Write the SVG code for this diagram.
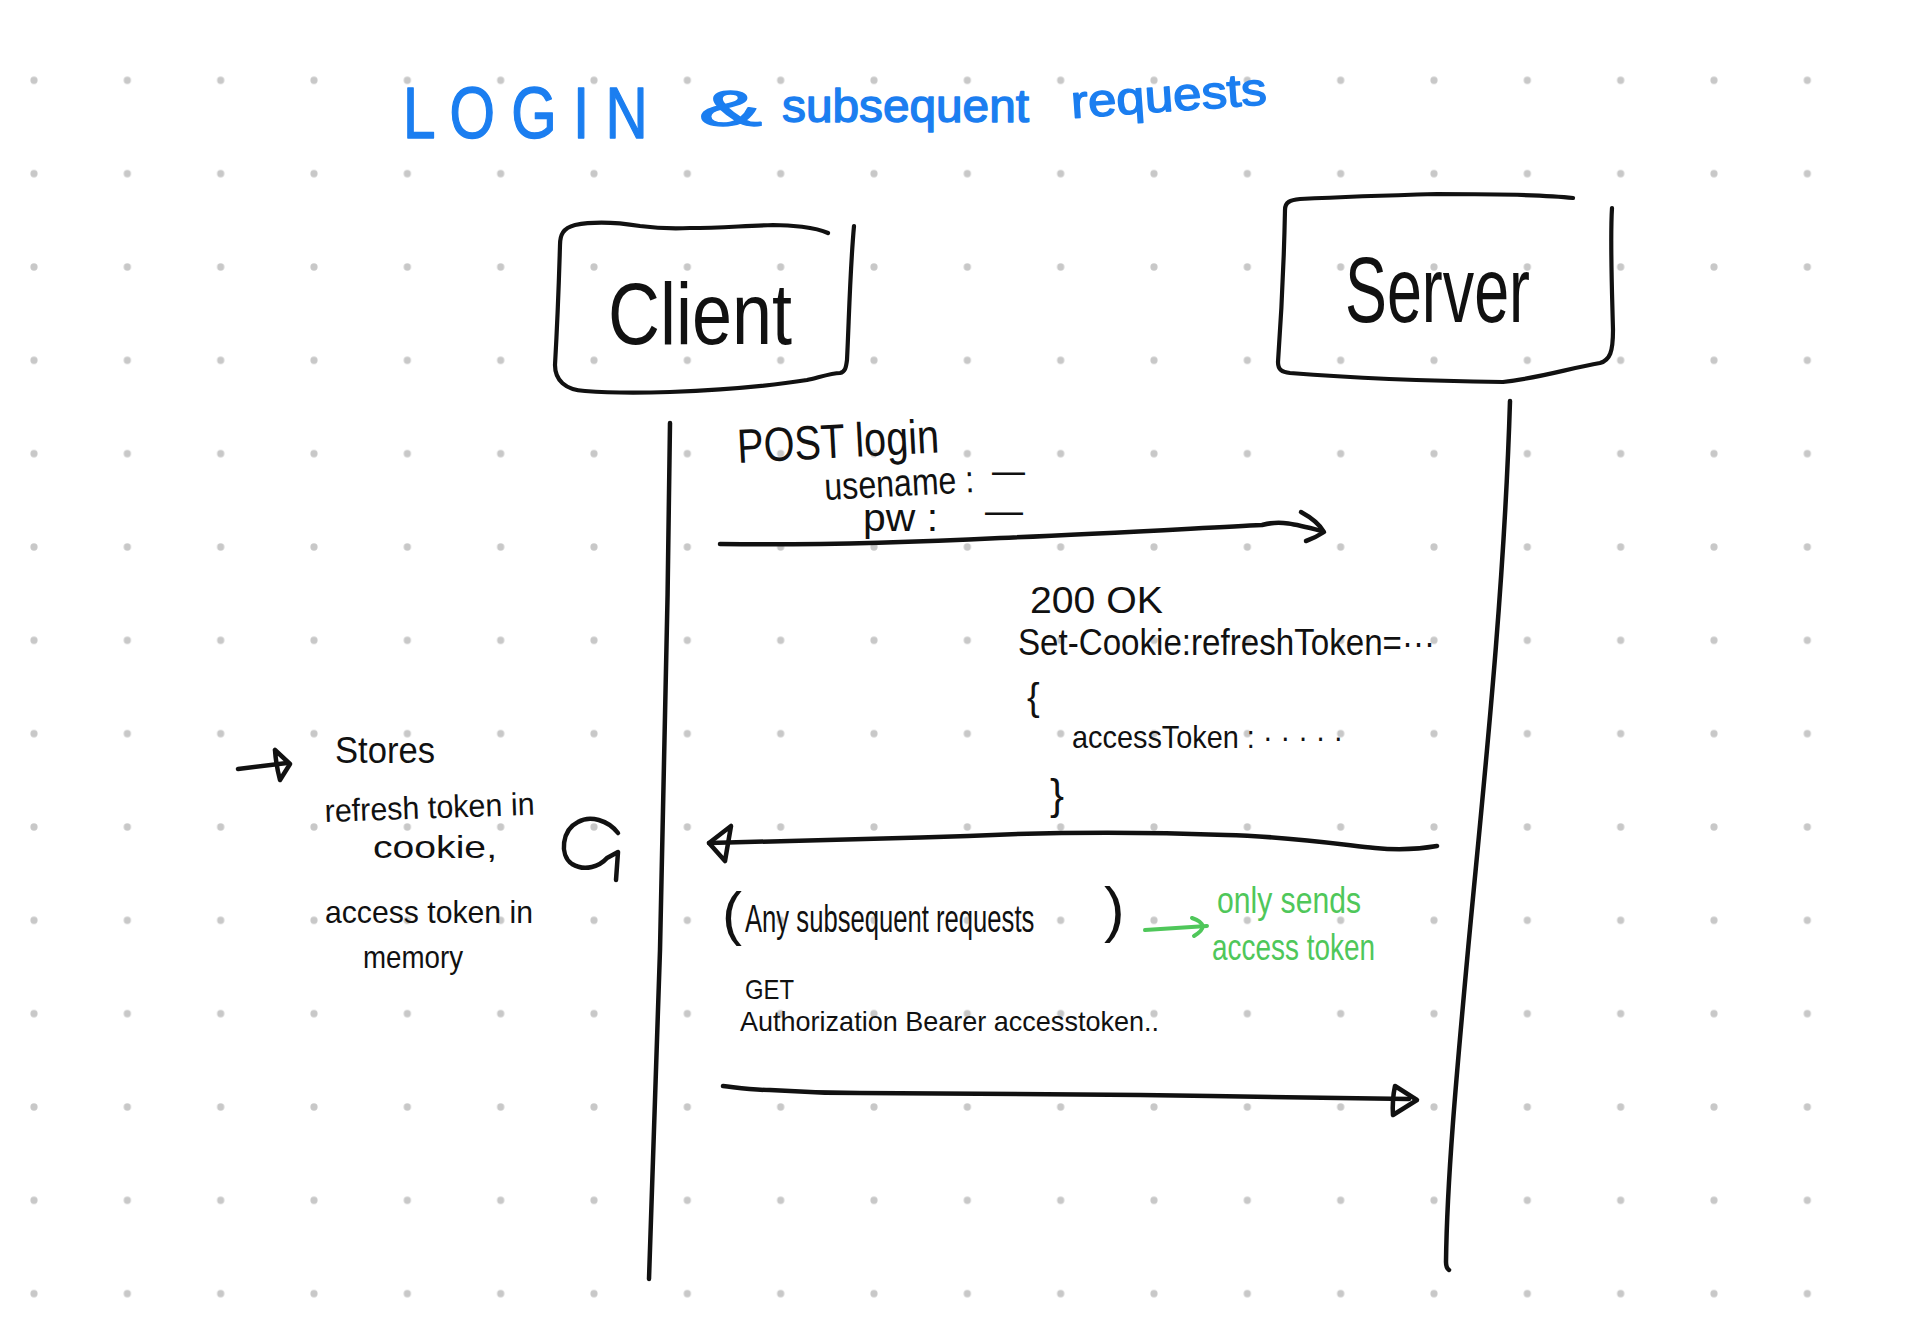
<svg xmlns="http://www.w3.org/2000/svg" width="1906" height="1324" viewBox="0 0 1906 1324">
<defs>
<pattern id="dots" x="-12.667" y="33.667" width="93.333" height="93.333" patternUnits="userSpaceOnUse">
<circle cx="46.667" cy="46.667" r="3.6" fill="#c8c8c8"/>
</pattern>
<style>
.ink{fill:none;stroke:#111;stroke-width:4.5;stroke-linecap:round;stroke-linejoin:round}
.box{fill:none;stroke:#111;stroke-width:4.2;stroke-linecap:round;stroke-linejoin:round}
.gink{fill:none;stroke:#4fc75a;stroke-width:4;stroke-linecap:round;stroke-linejoin:round}
.t{font-family:"Liberation Sans",Arial,sans-serif;fill:#111}
.g{font-family:"Liberation Sans",Arial,sans-serif;fill:#4fc75a}
.b{font-family:"Liberation Sans",Arial,sans-serif;fill:#1b7ef0;stroke:#1b7ef0;stroke-width:1.4;stroke-linejoin:round}
</style>
</defs>
<rect width="1906" height="1324" fill="#ffffff"/>
<rect x="0" y="0" width="1860" height="1324" fill="url(#dots)"/>

<g id="title">
<text class="b" x="0" y="0" font-size="72" stroke-width="2.8" transform="translate(403 138) scale(0.812 1)">L O G I N</text>
<text class="b" x="699" y="126" font-size="50" textLength="63" lengthAdjust="spacingAndGlyphs">&amp;</text>
<text class="b" x="782" y="122" font-size="46" textLength="247" lengthAdjust="spacingAndGlyphs">subsequent</text>
<text class="b" x="1072" y="118" font-size="46" textLength="196" lengthAdjust="spacingAndGlyphs" transform="rotate(-4 1072 118)">requests</text>
</g>

<g id="client">
<path class="box" d="M 828,233 C 815,227 790,225 773,225 C 740,226 720,228 690,228 C 670,229 655,228 640,226 C 615,222 590,222 575,225 C 563,228 560,235 560,245 C 559,280 557,330 555,365 C 555,380 565,390 585,391 C 610,393 640,393 670,392 C 720,390 770,386 807,380 C 820,377 832,373 840,373 C 845,372 846,368 847,360 C 849,320 850,270 854,226"/>
<text class="t" x="608" y="344" font-size="88" textLength="184" lengthAdjust="spacingAndGlyphs">Client</text>
</g>

<g id="server">
<path class="box" d="M 1573,198 C 1540,194 1470,194 1437,194 C 1400,195 1340,197 1300,199 C 1290,200 1285,202 1285,210 C 1284,260 1281,320 1278,362 C 1278,370 1282,372 1290,373 C 1340,377 1430,381 1503,382 C 1540,378 1570,368 1600,363 C 1610,360 1613,352 1613,330 C 1612,290 1610,240 1612,208"/>
<text class="t" x="1345" y="322" font-size="92" textLength="185" lengthAdjust="spacingAndGlyphs">Server</text>
</g>

<g id="connectors">
<path class="ink" d="M 670,423 C 668,600 664,800 660,950 C 656,1080 652,1180 649,1279"/>
<path class="ink" d="M 1510,401 C 1504,600 1482,800 1468,950 C 1456,1080 1447,1180 1446,1262 Q 1446,1268 1449,1270"/>
<path class="ink" d="M 720,544 C 800,545 900,543 1000,538 C 1100,534 1200,528 1262,525 C 1280,520 1295,524 1322,531"/>
<path class="ink" d="M 1301,512 C 1312,518 1320,525 1324,532 C 1318,536 1312,539 1306,541"/>
<path class="ink" d="M 1437,846 C 1420,849 1395,850 1375,848 C 1330,843 1280,836 1226,835 C 1150,832 1050,832 968,836 C 880,839 790,841 709,843"/>
<path class="ink" d="M 731,826 L 709,843 L 725,861 L 731,826"/>
<path class="ink" d="M 723,1086 C 740,1088 750,1090 770,1090 C 800,1092 825,1093 860,1093 C 1000,1094 1100,1094 1211,1096 C 1280,1097 1330,1098 1409,1099"/>
<path class="ink" d="M 1395,1086 L 1417,1100 L 1393,1115 Q 1392,1100 1395,1086"/>
<path class="ink" d="M 238,769 L 287,763"/>
<path class="ink" d="M 275,750 L 290,764 L 280,780 Q 276,765 275,750"/>
<path class="ink" d="M 618,833 C 608,820 590,815 578,822 C 562,830 559,855 572,864 C 585,872 600,866 607,858 L 618,852 L 616,880"/>
<path class="gink" d="M 1145,930 L 1207,926"/>
<path class="gink" d="M 1192,918 Q 1212,925 1194,936"/>
</g>

<g id="msg-login">
<text class="t" x="738" y="463" font-size="48" textLength="202" lengthAdjust="spacingAndGlyphs" transform="rotate(-3 738 463)">POST login</text>
<text class="t" x="825" y="500" font-size="38" textLength="150" lengthAdjust="spacingAndGlyphs" transform="rotate(-3 825 500)">usename :</text>
<text class="t" x="992" y="484" font-size="38" textLength="33" lengthAdjust="spacingAndGlyphs">—</text>
<text class="t" x="863" y="531" font-size="38" textLength="75" lengthAdjust="spacingAndGlyphs">pw :</text>
<text class="t" x="985" y="524" font-size="38" textLength="38" lengthAdjust="spacingAndGlyphs">—</text>
</g>

<g id="msg-response">
<text class="t" x="1030" y="613" font-size="36" textLength="133" lengthAdjust="spacingAndGlyphs">200 OK</text>
<text class="t" x="1018" y="655" font-size="37" textLength="417" lengthAdjust="spacingAndGlyphs">Set-Cookie:refreshToken=···</text>
<text class="t" x="1027" y="710" font-size="38">{</text>
<text class="t" x="1072" y="748" font-size="32" textLength="271" lengthAdjust="spacingAndGlyphs">accessToken : · · · · ·</text>
<text class="t" x="1050" y="809" font-size="42">}</text>
</g>

<g id="note-stores">
<text class="t" x="335" y="763" font-size="36" textLength="100" lengthAdjust="spacingAndGlyphs">Stores</text>
<text class="t" x="325" y="822" font-size="32" textLength="210" lengthAdjust="spacingAndGlyphs" transform="rotate(-2 325 822)">refresh token in</text>
<text class="t" x="373" y="858" font-size="32" textLength="124" lengthAdjust="spacingAndGlyphs">cookie,</text>
<text class="t" x="325" y="923" font-size="32" textLength="208" lengthAdjust="spacingAndGlyphs">access token in</text>
<text class="t" x="363" y="968" font-size="32" textLength="100" lengthAdjust="spacingAndGlyphs">memory</text>
</g>

<g id="msg-subsequent">
<text class="t" x="722" y="934" font-size="60">(</text>
<text class="t" x="0" y="0" font-size="38" transform="translate(745 932) scale(0.675 1)">Any subsequent requests</text>
<text class="t" x="1104" y="930" font-size="62">)</text>
<text class="g" x="1217" y="913" font-size="36" textLength="144" lengthAdjust="spacingAndGlyphs">only sends</text>
<text class="g" x="1212" y="960" font-size="36" textLength="163" lengthAdjust="spacingAndGlyphs">access token</text>
<text class="t" x="745" y="999" font-size="28" textLength="49" lengthAdjust="spacingAndGlyphs">GET</text>
<text class="t" x="740" y="1031" font-size="28" textLength="419" lengthAdjust="spacingAndGlyphs">Authorization Bearer accesstoken..</text>
</g>
</svg>
